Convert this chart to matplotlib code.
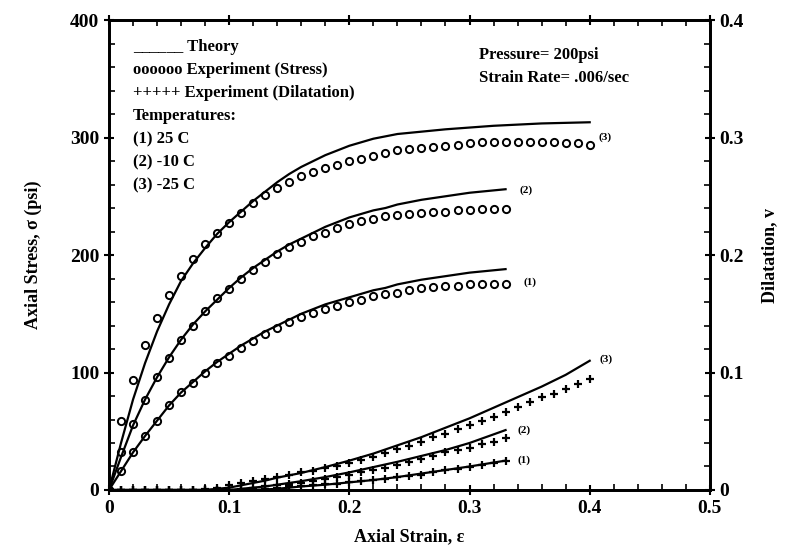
import numpy as np
import matplotlib
matplotlib.use("Agg")
import matplotlib.pyplot as plt
from matplotlib.ticker import MultipleLocator

plt.rcParams['font.family'] = ['Liberation Serif', 'DejaVu Serif']
plt.rcParams['font.weight'] = 'bold'
plt.rcParams['mathtext.default'] = 'regular'

# experiment points, every 0.01 strain
strain_33 = np.round(np.arange(0, 0.331, 0.01), 2)
strain_40 = np.round(np.arange(0, 0.401, 0.01), 2)

stress1 = [0, 16, 32, 46, 59, 72, 83, 91, 100, 108, 114, 121, 127, 133, 138, 143, 147,
           151, 154, 157, 160, 162, 165, 167, 168, 170, 172, 173, 174, 174, 175, 175, 175, 175]
stress2 = [0, 32, 56, 77, 96, 112, 128, 140, 152, 163, 171, 180, 187, 194, 201, 207, 211,
           216, 219, 223, 226, 229, 231, 233, 234, 235, 236, 237, 237, 238, 238, 239, 239, 239]
stress3 = [0, 59, 94, 123, 146, 166, 182, 197, 209, 219, 227, 236, 244, 251, 257, 262, 267,
           271, 274, 277, 280, 282, 284, 287, 289, 290, 291, 292, 293, 294, 295, 296, 296, 296,
           296, 296, 296, 296, 295, 295, 294]

dil1 = [0, 0, 0, 0, 0, 0, 0, 0, 0, 0, 0, 0, 0, 0.001, 0.002, 0.003, 0.0035, 0.004, 0.005,
        0.0055, 0.0065, 0.0075, 0.0085, 0.0095, 0.011, 0.012, 0.013, 0.015, 0.017, 0.018,
        0.0195, 0.021, 0.0227, 0.0247]
dil2 = [0, 0, 0, 0, 0, 0, 0, 0, 0, 0, 0, 0.001, 0.002, 0.003, 0.004, 0.005, 0.006, 0.0075,
        0.009, 0.011, 0.013, 0.015, 0.017, 0.019, 0.0215, 0.024, 0.026, 0.029, 0.032, 0.034,
        0.036, 0.039, 0.041, 0.044]
dil3 = [0, 0, 0, 0, 0, 0, 0, 0, 0.001, 0.002, 0.004, 0.006, 0.008, 0.0095, 0.011, 0.013,
        0.015, 0.0164, 0.0187, 0.0204, 0.0233, 0.0255, 0.0284, 0.0315, 0.0349, 0.0374,
        0.0411, 0.045, 0.0477, 0.0519, 0.0553, 0.059, 0.0624, 0.0666, 0.071, 0.075, 0.079,
        0.082, 0.086, 0.090, 0.0945]

# theory curves (stress)
th_x12 = [0, 0.01, 0.02, 0.03, 0.04, 0.05, 0.06, 0.07, 0.08, 0.09, 0.10, 0.11, 0.12, 0.13,
          0.14, 0.15, 0.16, 0.17, 0.18, 0.19, 0.20, 0.21, 0.22, 0.23, 0.24, 0.26, 0.28,
          0.30, 0.33]
th_s1 = [0, 16, 32, 46, 59, 72, 83, 92, 101, 109, 116, 123, 129, 135, 140, 145, 150, 154,
         158, 161, 164, 167, 170, 172, 175, 179, 182, 185, 188]
th_s2 = [0, 28, 55, 77, 96, 113, 128, 141, 152, 162, 172, 181, 189, 196, 203, 209, 214,
         219, 224, 228, 232, 235, 238, 240, 243, 247, 250, 253, 256]
th_x3 = [0, 0.01, 0.02, 0.03, 0.04, 0.05, 0.06, 0.07, 0.08, 0.09, 0.10, 0.11, 0.12, 0.13,
         0.14, 0.15, 0.16, 0.17, 0.18, 0.19, 0.20, 0.21, 0.22, 0.23, 0.24, 0.26, 0.28,
         0.30, 0.32, 0.34, 0.36, 0.38, 0.40]
th_s3 = [0, 40, 77, 108, 135, 158, 178, 193, 206, 218, 228, 237, 246, 254, 262, 269, 275,
         280, 285, 289, 293, 296, 299, 301, 303, 305, 307, 308.5, 310, 311, 312, 312.5, 313]

# theory curves (dilatation)
thd_x1 = [0, 0.12, 0.13, 0.14, 0.16, 0.18, 0.20, 0.22, 0.24, 0.26, 0.28, 0.30, 0.33]
thd_1 = [0, 0, 0.0005, 0.001, 0.003, 0.0045, 0.0065, 0.0085, 0.011, 0.014, 0.017, 0.020, 0.025]
thd_x2 = [0, 0.10, 0.11, 0.12, 0.13, 0.14, 0.15, 0.16, 0.18, 0.20, 0.22, 0.24, 0.26, 0.28,
          0.30, 0.33]
thd_2 = [0, 0, 0.001, 0.002, 0.003, 0.0045, 0.006, 0.0075, 0.011, 0.015, 0.0195, 0.024,
         0.029, 0.034, 0.040, 0.051]
thd_x3 = [0, 0.08, 0.09, 0.10, 0.11, 0.12, 0.13, 0.14, 0.15, 0.16, 0.18, 0.20, 0.22, 0.24,
          0.26, 0.28, 0.30, 0.32, 0.34, 0.36, 0.38, 0.40]
thd_3 = [0, 0, 0.001, 0.002, 0.004, 0.006, 0.008, 0.0105, 0.0125, 0.0145, 0.0195, 0.025,
         0.031, 0.038, 0.045, 0.053, 0.061, 0.070, 0.079, 0.088, 0.098, 0.110]

fig = plt.figure(figsize=(7.87, 5.57), dpi=100)
ax = fig.add_axes([0.1385, 0.1203, 0.7635, 0.8437])
ax2 = ax.twinx()

circ = dict(linestyle='none', marker='o', ms=5.2, mfc='none', mec='black', mew=1.4)
plus = dict(linestyle='none', marker='+', ms=6, color='black', mew=1.6)

ax.plot(th_x12, th_s1, color='black', lw=1.6)
ax.plot(th_x12, th_s2, color='black', lw=1.6)
ax.plot(th_x3, th_s3, color='black', lw=1.6)
ax.plot(strain_33, stress1, **circ)
ax.plot(strain_33, stress2, **circ)
ax.plot(strain_40, stress3, **circ)

ax2.plot(thd_x1, thd_1, color='black', lw=1.6)
ax2.plot(thd_x2, thd_2, color='black', lw=1.6)
ax2.plot(thd_x3, thd_3, color='black', lw=1.6)
ax2.plot(strain_33, dil1, **plus)
ax2.plot(strain_33, dil2, **plus)
ax2.plot(strain_40, dil3, **plus)

ax.set_xlim(0, 0.5)
ax.set_ylim(0, 400)
ax2.set_ylim(0, 0.4)

ax.xaxis.set_minor_locator(MultipleLocator(0.02))
ax.yaxis.set_major_locator(MultipleLocator(100))
ax.yaxis.set_minor_locator(MultipleLocator(20))
ax2.yaxis.set_minor_locator(MultipleLocator(0.02))

ax.set_xticks([0, 0.1, 0.2, 0.3, 0.4, 0.5])
ax.set_xticklabels(['0', '0.1', '0.2', '0.3', '0.4', '0.5'])
ax2.set_yticks([0, 0.1, 0.2, 0.3, 0.4])
ax2.set_yticklabels(['0', '0.1', '0.2', '0.3', '0.4'])

for a in (ax, ax2):
    for s in a.spines.values():
        s.set_linewidth(2)
ax.tick_params(which='major', direction='inout', length=7, width=1.5, labelsize=14, top=True)
ax.tick_params(which='minor', direction='in', length=4, width=1.2, top=True)
ax2.tick_params(which='major', direction='inout', length=7, width=1.5, labelsize=14)
ax2.tick_params(which='minor', direction='in', length=4, width=1.2)
for lab in ax.get_xticklabels() + ax.get_yticklabels() + ax2.get_yticklabels():
    lab.set_fontweight('bold')

ax.set_xlabel('Axial Strain, ε', fontsize=13, fontweight='bold', labelpad=8)
ax.set_ylabel('Axial Stress, σ (psi)', fontsize=13, fontweight='bold', labelpad=20)
ax2.set_ylabel('Dilatation, v', fontsize=13, fontweight='bold', labelpad=12)

legend_lines = ['______ Theory', 'oooooo Experiment (Stress)', '+++++ Experiment (Dilatation)',
                'Temperatures:', '(1) 25 C', '(2) -10 C', '(3) -25 C']
for i, t in enumerate(legend_lines):
    ax.text(0.02, 377 - i * 19.6, t, fontsize=12, fontweight='bold', va='center')
ax.text(0.308, 370, 'Pressure= 200psi', fontsize=12, fontweight='bold', va='center')
ax.text(0.308, 351, 'Strain Rate= .006/sec', fontsize=12, fontweight='bold', va='center')

ax.text(0.407, 296, '(3)', fontsize=8, fontweight='bold', va='bottom')
ax.text(0.342, 255, '(2)', fontsize=8, fontweight='bold', va='center')
ax.text(0.345, 177, '(1)', fontsize=8, fontweight='bold', va='center')
ax2.text(0.408, 0.111, '(3)', fontsize=8, fontweight='bold', va='center')
ax2.text(0.34, 0.051, '(2)', fontsize=8, fontweight='bold', va='center')
ax2.text(0.34, 0.025, '(1)', fontsize=8, fontweight='bold', va='center')

fig.savefig('out.png', dpi=100)
